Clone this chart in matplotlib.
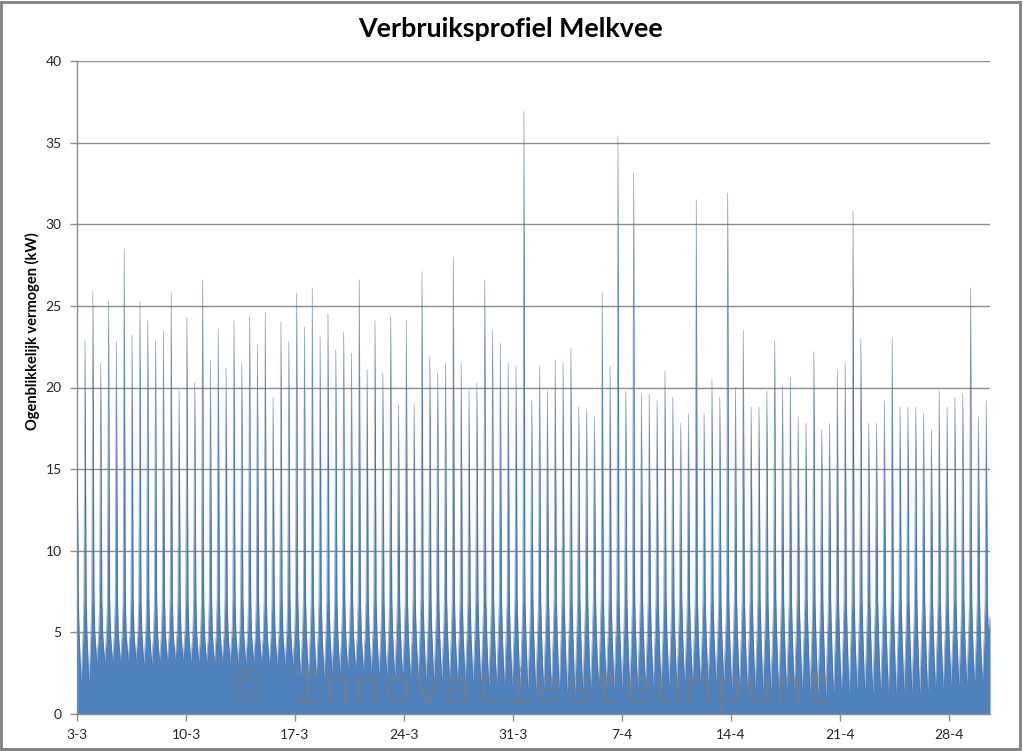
import numpy as np
import matplotlib
matplotlib.use("Agg")
import matplotlib.pyplot as plt
from matplotlib.patches import Rectangle

# ---------------- data ----------------
title = "Verbruiksprofiel Melkvee"
ylabel = "Ogenblikkelijk vermogen (kW)"
watermark = "\u00a9 Innovatiesteunpunt"

tick_days = [0, 7, 14, 21, 28, 35, 42, 49, 56]
tick_labels = ["3-3", "10-3", "17-3", "24-3", "31-3", "7-4", "14-4", "21-4", "28-4"]

# milking peaks (kW), one per milking, about every 12 h from 3-3
peaks = [15.0,
         22.9, 25.9, 21.5, 25.3, 22.8, 28.5, 23.2, 25.3, 24.1, 22.9,
         23.5, 25.8, 19.8, 24.3, 20.3, 26.6, 21.7, 23.6, 21.2, 24.1,
         21.5, 24.4, 22.6, 24.6, 19.4, 24.0, 22.8, 25.8,
         23.7, 26.1, 23.1, 24.5, 22.3, 23.4, 22.1, 26.6, 21.1, 24.1,
         20.9, 24.4, 19.0, 24.1, 19.0, 27.1, 21.9, 20.9, 21.5, 28.0,
         21.5, 19.8, 20.3, 26.6, 23.5, 22.7, 21.5, 21.3, 36.9, 19.2,
         21.3, 19.8, 21.7, 21.5, 22.4, 18.8, 18.7, 18.2, 25.8, 21.3,
         35.4, 19.8, 33.2, 19.6, 19.6, 19.2, 21.0, 19.4, 17.8, 18.4,
         31.5, 18.4, 20.5, 19.4, 31.9, 20.0, 23.5, 18.8, 18.8,
         19.8, 22.9, 20.1, 20.6, 18.2, 17.8, 22.2, 17.4, 17.8, 21.1,
         21.5, 30.8, 23.0, 17.8, 17.8, 19.2, 23.0, 18.8, 18.8, 18.8,
         18.4, 17.4, 19.8, 18.8, 19.4, 19.6, 26.1, 18.2, 19.2]

# lowest level between milkings, per day (kW), 3-3 .. 30-4
trough_per_day = [1.9, 3.2, 3.2, 3.3, 3.1, 3.2, 3.3, 3.2, 3.1, 3.2,
                  3.1, 3.2, 3.0, 3.0, 2.3, 2.2, 2.6, 2.8, 2.6, 2.4,
                  2.3, 2.2, 2.1, 2.1, 2.0, 1.9, 1.8, 1.7, 1.6, 1.5,
                  1.4, 1.3, 1.5, 1.7, 1.6, 1.6, 1.7, 1.6, 1.8, 1.9,
                  1.9, 2.0, 1.6, 1.5, 1.5, 1.4, 1.4, 1.3, 1.1, 1.2,
                  1.4, 1.3, 1.2, 1.4, 1.3, 1.5, 1.8, 1.9, 1.9]

end_value = 6.0
first_milking_day = 0.011
milking_interval_h = 12.08
data_end_day = 58.64

# shape of the power decay around a milking: (offset in h, kW)
flank_h = [0.0, 1.45, 1.8, 3.0]
flank_kw = [None, 10.0, 7.0, 5.0]

# ---------------- build the series ----------------
period = milking_interval_h / 24.0
offs = [h / 24.0 for h in flank_h]
ts, ys = [], []
n = len(peaks)
for k in range(n):
    tk = first_milking_day + k * period
    if k > 0:
        for o, v in zip(offs[:0:-1], flank_kw[:0:-1]):
            ts.append(tk - o); ys.append(v)
    ts.append(tk); ys.append(peaks[k])
    for o, v in zip(offs[1:], flank_kw[1:]):
        ts.append(tk + o); ys.append(v)
    if k < n - 1:
        mid = tk + period / 2
        ts.append(mid); ys.append(trough_per_day[int(mid)])
ts.append(data_end_day); ys.append(end_value)
ts = np.array(ts); ys = np.array(ys)
keep = ts >= 0
ts, ys = ts[keep], ys[keep]

# ---------------- figure ----------------
W, H, DPI = 1023, 751, 100
fig = plt.figure(figsize=(W / DPI, H / DPI), dpi=DPI)
fig.patch.set_facecolor("white")
ax = fig.add_axes([77 / W, 1 - 714 / H, (990 - 77) / W, (714 - 61) / H])

ax.fill_between(ts, 0, ys, color="#4F81BD", linewidth=0, zorder=2)
ax.plot(ts, ys, color="#46689A", linewidth=0.5, alpha=0.6, zorder=3)

ax.set_xlim(0, data_end_day)
ax.set_ylim(0, 40)
ax.set_yticks(np.arange(0, 41, 5))
ax.set_xticks(tick_days)
ax.set_xticklabels(tick_labels)
ax.grid(axis="y", color="#8C8C8C", linewidth=1.0, zorder=1)
ax.set_axisbelow(True)
for s in ["top", "right"]:
    ax.spines[s].set_visible(False)
for s in ["left", "bottom"]:
    ax.spines[s].set_color("#8C8C8C")
    ax.spines[s].set_linewidth(1.0)
ax.tick_params(axis="both", colors="#8C8C8C", labelcolor="#262626",
               labelsize=10, length=5, width=1.0)
ax.tick_params(axis="x", pad=6)
ax.tick_params(axis="y", pad=6)
for lab in ax.get_xticklabels() + ax.get_yticklabels():
    lab.set_fontfamily("Lato")

# title
t_title = fig.text(511 / W, 1 - 29 / H, title, ha="center", va="center",
                   fontsize=18, fontweight="bold", family="Lato", color="black")
# y label
t_ylab = fig.text(32 / W, 1 - 331 / H, ylabel, ha="center", va="center",
                  rotation=90, fontsize=9.5, fontweight="bold", family="Lato",
                  color="black")
# watermark
t_wm = fig.text(533 / W, 1 - 690 / H, watermark, ha="center", va="center",
                fontsize=36, family="Liberation Mono", color="#7F7F7F",
                alpha=0.45, zorder=10)

# fit the text widths to the picture
fig.canvas.draw()
r = fig.canvas.get_renderer()
for txt, target, horiz in [(t_title, 305, True), (t_ylab, 198, False), (t_wm, 603, True)]:
    bb = txt.get_window_extent(r)
    cur = bb.width if horiz else bb.height
    txt.set_fontsize(txt.get_fontsize() * target / cur)

# outer border of the chart area
fig.patches.append(Rectangle((0.001, 0.002), 0.996, 0.996, transform=fig.transFigure,
                             fill=False, edgecolor="#7F7F7F", linewidth=2.0))

fig.savefig("out.png", dpi=DPI)
